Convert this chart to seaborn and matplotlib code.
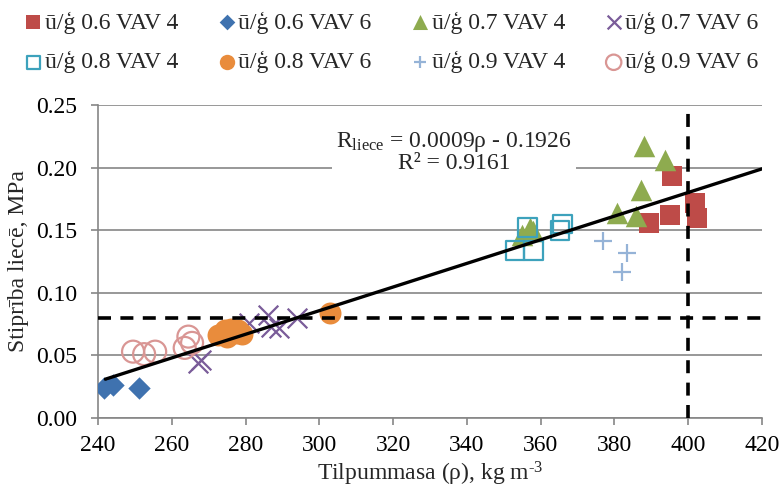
import numpy as np
import pandas as pd
import matplotlib
matplotlib.use("Agg")
import matplotlib.pyplot as plt
from matplotlib.ticker import FormatStrFormatter, MultipleLocator
import seaborn as sns

# ---- data ----
labels = ["ū/ģ 0.6 VAV 4", "ū/ģ 0.6 VAV 6", "ū/ģ 0.7 VAV 4", "ū/ģ 0.7 VAV 6",
          "ū/ģ 0.8 VAV 4", "ū/ģ 0.8 VAV 6", "ū/ģ 0.9 VAV 4", "ū/ģ 0.9 VAV 6"]

x_06_4 = [395.5, 395.0, 389.5, 401.8, 402.3]
y_06_4 = [0.193, 0.162, 0.156, 0.172, 0.160]

x_06_6 = [241.5, 244.0, 251.0]
y_06_6 = [0.024, 0.026, 0.024]

x_07_4 = [355.0, 357.0, 358.0, 388.0, 393.7, 387.2, 380.7, 385.8]
y_07_4 = [0.146, 0.152, 0.149, 0.217, 0.206, 0.182, 0.164, 0.161]

x_07_6 = [267.0, 268.0, 281.0, 286.0, 287.0, 289.0, 294.0]
y_07_6 = [0.044, 0.046, 0.076, 0.082, 0.073, 0.072, 0.080]

x_08_4 = [353.0, 358.0, 356.5, 365.2, 366.0]
y_08_4 = [0.134, 0.134, 0.152, 0.150, 0.155]

x_08_6 = [272.5, 274.5, 276.0, 277.5, 279.0, 278.0, 275.0, 303.0]
y_08_6 = [0.066, 0.070, 0.071, 0.068, 0.067, 0.070, 0.065, 0.084]

x_09_4 = [377.0, 383.5, 382.0]
y_09_4 = [0.141, 0.132, 0.117]

x_09_6 = [249.5, 252.5, 255.5, 263.5, 264.5, 265.5]
y_09_6 = [0.053, 0.051, 0.053, 0.056, 0.065, 0.060]

trend_x = [242.0, 420.0]
trend_y = [0.031, 0.199]
limit_density = 400
limit_strength = 0.08

xs = [x_06_4, x_06_6, x_07_4, x_07_6, x_08_4, x_08_6, x_09_4, x_09_6]
ys = [y_06_4, y_06_6, y_07_4, y_07_6, y_08_4, y_08_6, y_09_4, y_09_6]

colors = ["#BE4B48", "#3F72AF", "#8EAB4F", "#7A5C99",
          "#3DA2BC", "#E98C3C", "#95B3D7", "#D99694"]
markers = ["s", "D", "^", "x", "s", "o", "+", "o"]
filled = [True, True, True, False, False, True, False, False]
sizes = [200, 130, 240, 200, 180, 250, 170, 250]

# ---- style ----
sns.set_theme(style="white")
plt.rcParams["font.family"] = ["Liberation Serif", "DejaVu Serif"]
plt.rcParams["mathtext.fontset"] = "custom"
plt.rcParams["mathtext.rm"] = "Liberation Serif"
plt.rcParams["mathtext.it"] = "Liberation Serif:italic"
plt.rcParams["mathtext.bf"] = "Liberation Serif:bold"

FS = 17
grey = "#868686"
fig = plt.figure(figsize=(7.8, 4.91), dpi=100)
ax = fig.add_axes([98 / 780, 1 - 418 / 491, (762 - 98) / 780, (418 - 105) / 491])

for i in range(8):
    df = pd.DataFrame({"rho": xs[i], "R": ys[i]})
    if markers[i] in ("x", "+"):
        sns.scatterplot(data=df, x="rho", y="R", ax=ax, marker=markers[i],
                        color=colors[i], s=sizes[i], linewidth=1.6,
                        label=labels[i], zorder=3 + i * 0.01)
    elif filled[i]:
        sns.scatterplot(data=df, x="rho", y="R", ax=ax, marker=markers[i],
                        color=colors[i], s=sizes[i], linewidth=0,
                        label=labels[i], zorder=3 + i * 0.01)
    else:
        sns.scatterplot(data=df, x="rho", y="R", ax=ax, marker=markers[i],
                        s=sizes[i], facecolor="none", edgecolor=colors[i],
                        linewidth=1.6, label=labels[i], zorder=3 + i * 0.01)

sns.lineplot(x=trend_x, y=trend_y, ax=ax, color="black", linewidth=2.4, zorder=5)
ax.axhline(limit_strength, color="black", linewidth=2.6, linestyle=(0, (3.6, 2.6)), zorder=6)
ax.axvline(limit_density, color="black", linewidth=2.6, linestyle=(0, (3.6, 2.6)), zorder=6)

ax.set_xlim(240, 420)
ax.set_ylim(0, 0.25)
ax.xaxis.set_major_locator(MultipleLocator(20))
ax.yaxis.set_major_locator(MultipleLocator(0.05))
ax.yaxis.set_major_formatter(FormatStrFormatter("%.2f"))
ax.grid(axis="y", color=grey, linewidth=1.2)
ax.set_axisbelow(True)
for side in ["top", "right"]:
    ax.spines[side].set_visible(False)
for side in ["left", "bottom"]:
    ax.spines[side].set_color(grey)
    ax.spines[side].set_linewidth(1.2)
ax.tick_params(axis="both", which="major", direction="out", length=5, width=1.2,
               color=grey, labelsize=FS, labelcolor="black")
ax.tick_params(axis="x", bottom=True, pad=7)
ax.tick_params(axis="y", left=True, pad=10)

ax.set_xlabel("Tilpummasa (ρ), kg m$^{\\text{-3}}$", fontsize=FS, labelpad=3)
ax.set_ylabel("Stiprība liecē, MPa", fontsize=FS, labelpad=5)

ax.text(336.5, 0.2125, "R$_{\\rm liece}$ = 0.0009ρ - 0.1926\nR² = 0.9161",
        ha="center", va="center", fontsize=FS, linespacing=0.95,
        multialignment="center", zorder=4,
        bbox=dict(facecolor="white", edgecolor="none", pad=3))

handles, labs = ax.get_legend_handles_labels()
if ax.get_legend() is not None:
    ax.get_legend().remove()
order = [0, 4, 1, 5, 2, 6, 3, 7]
fig.legend([handles[k] for k in order], [labs[k] for k in order], ncol=4,
           loc="upper center", bbox_to_anchor=(0.5, 1.02),
           frameon=False, fontsize=FS, handletextpad=0.0, columnspacing=1.55,
           handlelength=1.0, markerscale=0.7, labelspacing=0.75)

fig.savefig("out.png", dpi=100)
